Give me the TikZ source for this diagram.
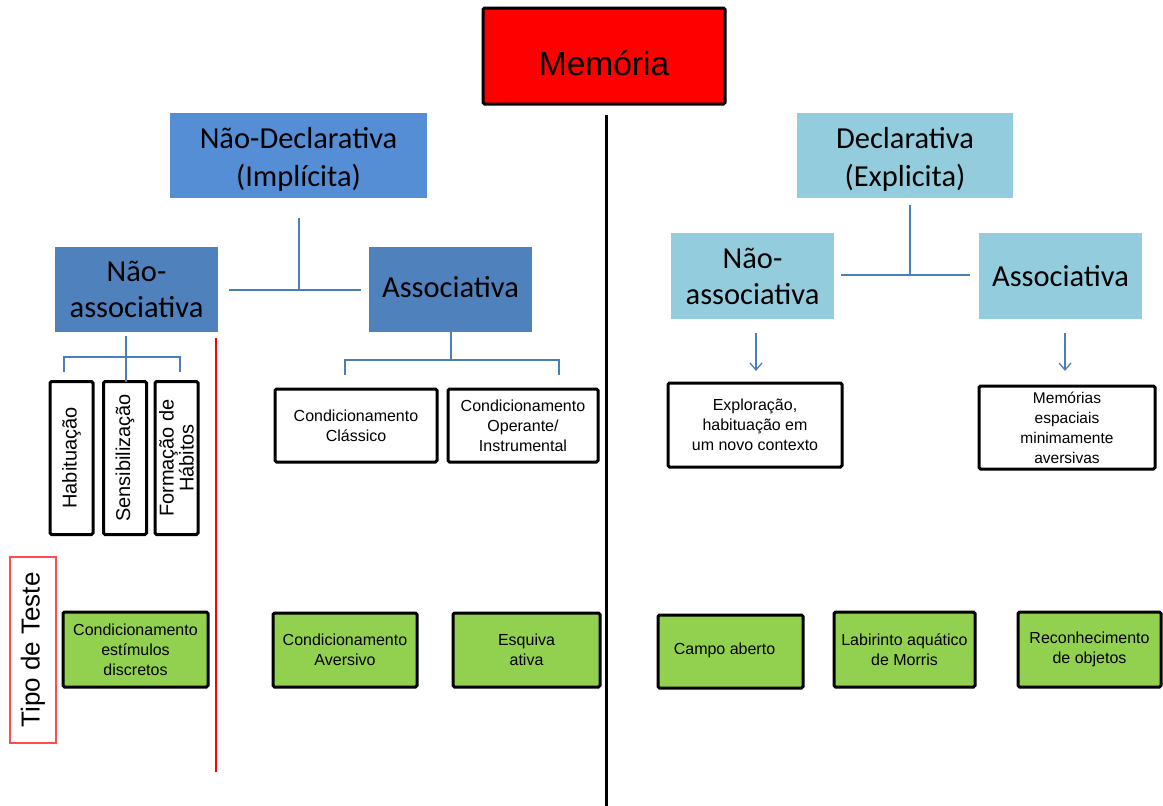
\documentclass[tikz,border=0pt]{standalone}
\usepackage{fontspec}
\setmainfont{Liberation Sans}
\newfontfamily\calib{Carlito}
\usetikzlibrary{arrows.meta}
\definecolor{memred}{HTML}{FF0000}
\definecolor{blueA}{HTML}{558ED5}
\definecolor{blueB}{HTML}{4F81BD}
\definecolor{lblue}{HTML}{93CDDD}
\definecolor{grn}{HTML}{92D050}
\definecolor{linkblue}{HTML}{4A7EBB}
\definecolor{tipored}{HTML}{FF4B4B}
\tikzset{
  blk/.style={draw=black, line width=3pt, rounded corners=1.5pt, fill=white, inner sep=0pt, align=center, font=\fontsize{16}{20}\selectfont},
  grnbox/.style={blk, fill=grn},
  vbox/.style={blk, rotate=90, minimum width=153pt, minimum height=43pt, font=\fontsize{20}{20}\selectfont},
  blubox/.style={inner sep=0pt, align=center, font=\calib\fontsize{30.5}{38}\selectfont},
  inlabel/.style={align=center, inner sep=0pt, font=\calib\fontsize{30.5}{38}\selectfont, yshift=-4pt},
  link/.style={draw=linkblue, line width=1.3pt},
  arr/.style={link, -{Straight Barb[length=7pt,width=12pt,line width=1.3pt]}},
}
\begin{document}
\begin{tikzpicture}[x=1pt,y=-1pt]
\useasboundingbox (0,0) rectangle (1163,806);
% top
\node[draw=black, line width=3pt, rounded corners=1.5pt, fill=memred, minimum width=242pt, minimum height=96pt, inner sep=0pt,
  label={[inner sep=0pt, font=\fontsize{33.5}{40}\selectfont, yshift=-7pt]center:Memória}] (mem) at (604,56) {};
\coordinate (c1) at (606,115);
\coordinate (c2) at (606,806);
\draw[line width=3pt] (c1) -- (c2);
% second level
\node[blubox, fill=blueA, minimum width=257pt, minimum height=85pt,
  label={[inlabel]center:Não-Declarativa\\(Implícita)}] (nd) at (298.5,155.5) {};
\node[blubox, fill=lblue, minimum width=216pt, minimum height=85pt,
  label={[inlabel]center:Declarativa\\(Explicita)}] (dec) at (905,155.5) {};
% third level
\node[blubox, fill=blueB, minimum width=163pt, minimum height=85pt, font=\calib\fontsize{30.5}{36}\selectfont] (nal) at (136.5,289.5) {Não-\\associativa};
\node[blubox, fill=blueB, minimum width=163pt, minimum height=85pt] (al) at (450.5,289.5) {\raisebox{6pt}{Associativa}};
\node[blubox, fill=lblue, minimum width=163pt, minimum height=86pt, font=\calib\fontsize{30.5}{36}\selectfont] (nar) at (752.5,276) {Não-\\associativa};
\node[blubox, fill=lblue, minimum width=163pt, minimum height=86pt] (ar) at (1060.5,276) {Associativa};
% left tree
\coordinate (lt1) at (299,218);
\coordinate (lt2) at (299,290);
\coordinate (lh1) at (229,290);
\coordinate (lh2) at (361,290);
\draw[link] (lt1) -- (lt2);
\draw[link] (lh1) -- (lh2);
% right tree
\coordinate (rt1) at (910,205);
\coordinate (rt2) at (910,275);
\coordinate (rh1) at (841,275);
\coordinate (rh2) at (970,275);
\draw[link] (rt1) -- (rt2);
\draw[link] (rh1) -- (rh2);
% vertical boxes
\node[vbox] (hab) at (71.5,458) {Habituação};
\node[vbox] (sen) at (125,458) {Sensibilização};
\node[vbox] (for) at (176.5,458) {Formação de\\Hábitos};
\coordinate (nb1) at (126,336);
\coordinate (nb2) at (126,382);
\draw[link] (nb1) -- (nb2);
\coordinate (bl1) at (64,372);
\coordinate (bl2) at (180,372);
\draw[link] (bl1) -- (64,357) -- (180,357) -- (bl2);
% associativa bracket
\coordinate (ab1) at (451,332);
\coordinate (ab2) at (451,360);
\draw[link] (ab1) -- (ab2);
\coordinate (abl) at (345,375);
\coordinate (abr) at (559,375);
\draw[link] (abl) -- (345,360) -- (559,360) -- (abr);
\node[blk, minimum width=162pt, minimum height=73pt] (cc) at (356,425.5) {Condicionamento\\Clássico};
\node[blk, minimum width=150pt, minimum height=73pt] (co) at (523,425.5) {Condicionamento\\Operante/\\Instrumental};
% right arrows
\node[blk, minimum width=174pt, minimum height=84pt] (exp) at (755,425) {Exploração,\\habituação em\\um novo contexto};
\node[blk, minimum width=176pt, minimum height=83pt, font=\fontsize{15.5}{20}\selectfont] (mes) at (1067,427.5) {Memórias\\espaciais\\minimamente\\aversivas};
\coordinate (ea) at (756,333);
\coordinate (ma) at (1065,333);
\draw[arr] (ea) -- ++(0,38);
\draw[arr] (ma) -- ++(0,38);
% red separator
\coordinate (rl1) at (216,338);
\coordinate (rl2) at (216,772);
\draw[red, line width=1.2pt] (rl1) -- (rl2);
% tipo de teste
\node[draw=tipored, line width=1.2pt, rotate=90, minimum width=186pt, minimum height=46pt, inner sep=0pt, font=\fontsize{26}{30}\selectfont] (tipo) at (33,650) {Tipo de Teste};
% green boxes
\node[grnbox, minimum width=145pt, minimum height=75pt] (g1) at (135.5,649.5) {Condicionamento\\estímulos\\discretos};
\node[grnbox, minimum width=144pt, minimum height=74pt] (g2) at (345,650) {Condicionamento\\Aversivo};
\node[grnbox, minimum width=147pt, minimum height=74pt] (g3) at (526.5,650) {Esquiva\\ativa};
\node[grnbox, minimum width=145pt, minimum height=73pt] (g4) at (730.5,651.5) {\raisebox{5pt}{Campo aberto\hspace{12pt}}};
\node[grnbox, minimum width=141pt, minimum height=75pt] (g5) at (904.5,649.5) {Labirinto aquático\\de Morris};
\node[grnbox, minimum width=143pt, minimum height=75pt] (g6) at (1089.5,649.5) {Reconhecimento\\de objetos};
\end{tikzpicture}
\end{document}
